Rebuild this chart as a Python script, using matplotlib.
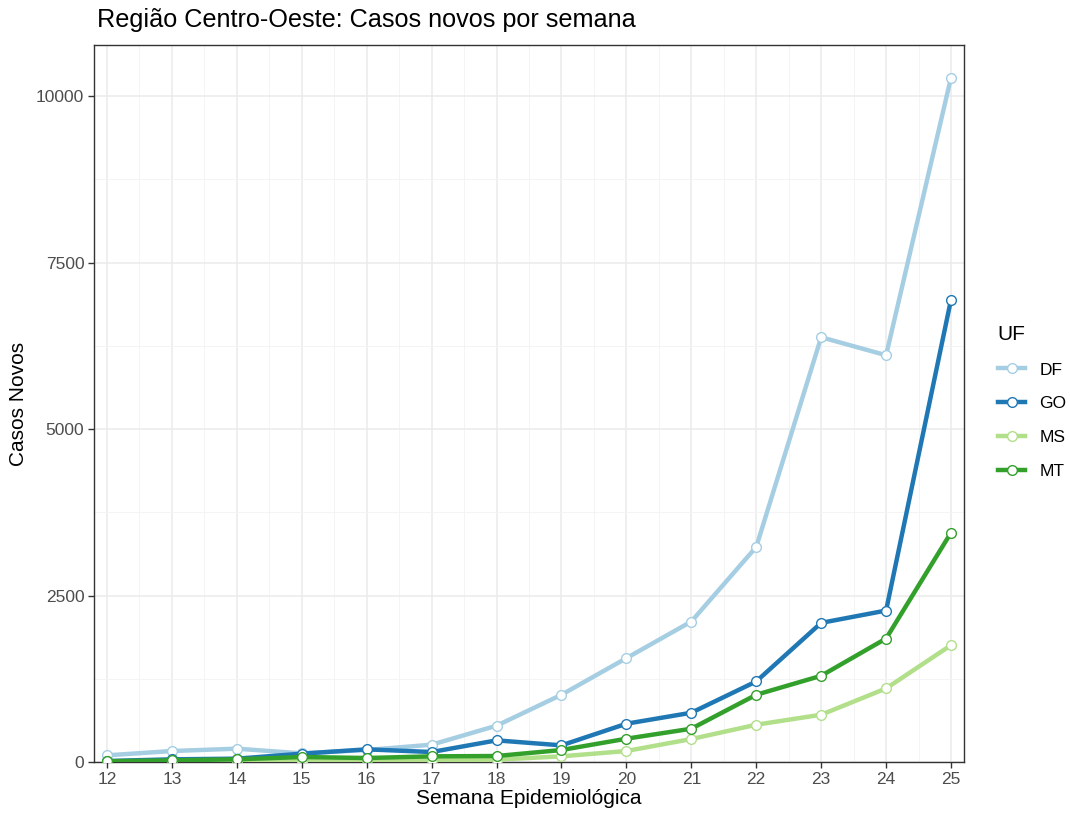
import matplotlib
matplotlib.use("Agg")
import matplotlib.pyplot as plt
from matplotlib.lines import Line2D
from matplotlib.ticker import FixedLocator

plt.rcParams['font.family'] = ['Liberation Sans', 'DejaVu Sans']

weeks = [12, 13, 14, 15, 16, 17, 18, 19, 20, 21, 22, 23, 24, 25]
df_vals = [100, 165, 200, 130, 180, 260, 545, 1010, 1560, 2110, 3230, 6380, 6110, 10280]
go_vals = [15, 40, 50, 125, 190, 150, 325, 250, 575, 740, 1210, 2090, 2275, 6945]
ms_vals = [0, 5, 10, 20, 25, 30, 35, 85, 165, 345, 560, 710, 1105, 1755]
mt_vals = [10, 25, 40, 75, 60, 85, 90, 180, 350, 500, 1010, 1295, 1855, 3445]
ufs = ["DF", "GO", "MS", "MT"]
series = [df_vals, go_vals, ms_vals, mt_vals]
colors = ["#A6CEE3", "#1F78B4", "#B2DF8A", "#33A02C"]
y_ticks = [0, 2500, 5000, 7500, 10000]

fig = plt.figure(figsize=(10.7, 8.16), dpi=100)
ax = fig.add_axes([94/1070, 1-762/816, (964-94)/1070, (762-45)/816])

LW = 3.2
MS = 7
for name, vals, c in zip(ufs, series, colors):
    ax.plot(weeks, vals, color=c, lw=LW, marker='o', markersize=MS,
            markerfacecolor='white', markeredgecolor=c, markeredgewidth=1.0,
            label=name, zorder=3)

ax.set_xlim(11.8, 25.2)
ax.set_ylim(0, 10770)
ax.set_xticks(weeks)
ax.set_xticklabels([str(w) for w in weeks])
ax.xaxis.set_minor_locator(FixedLocator([w + 0.5 for w in weeks[:-1]]))
ax.set_yticks(y_ticks)
ax.set_yticklabels([str(v) for v in y_ticks])
ax.yaxis.set_minor_locator(FixedLocator([1250, 3750, 6250, 8750]))

ax.grid(True, which='major', color='#EBEBEB', lw=1.1, zorder=0)
ax.grid(True, which='minor', color='#F3F3F3', lw=0.6, zorder=0)
ax.set_axisbelow(True)
for s in ax.spines.values():
    s.set_color('#333333')
    s.set_linewidth(1.0)
ax.tick_params(which='major', length=4, width=1, color='#333333',
               labelsize=12.5, labelcolor='#4D4D4D', pad=3)
ax.tick_params(which='minor', length=0)

ax.set_xlabel("Semana Epidemiológica", fontsize=15, color='black', labelpad=2)
ax.set_ylabel("Casos Novos", fontsize=15, color='black', labelpad=6)
fig.text(97/1070, 1-20/816, "Região Centro-Oeste: Casos novos por semana",
         fontsize=18.2, ha='left', va='center', color='black')

handles = [Line2D([0], [0], color=c, lw=LW, marker='o', markersize=MS,
                  markerfacecolor='white', markeredgecolor=c, markeredgewidth=1.0)
           for c in colors]
leg = fig.legend(handles, ufs, title="UF", loc='upper left',
                 bbox_to_anchor=(982/1070, 1-309/816), frameon=False,
                 fontsize=12.5, title_fontsize=15, handlelength=1.6,
                 labelspacing=1.08, handletextpad=0.8, alignment='left')

fig.savefig("out.png", dpi=100)
